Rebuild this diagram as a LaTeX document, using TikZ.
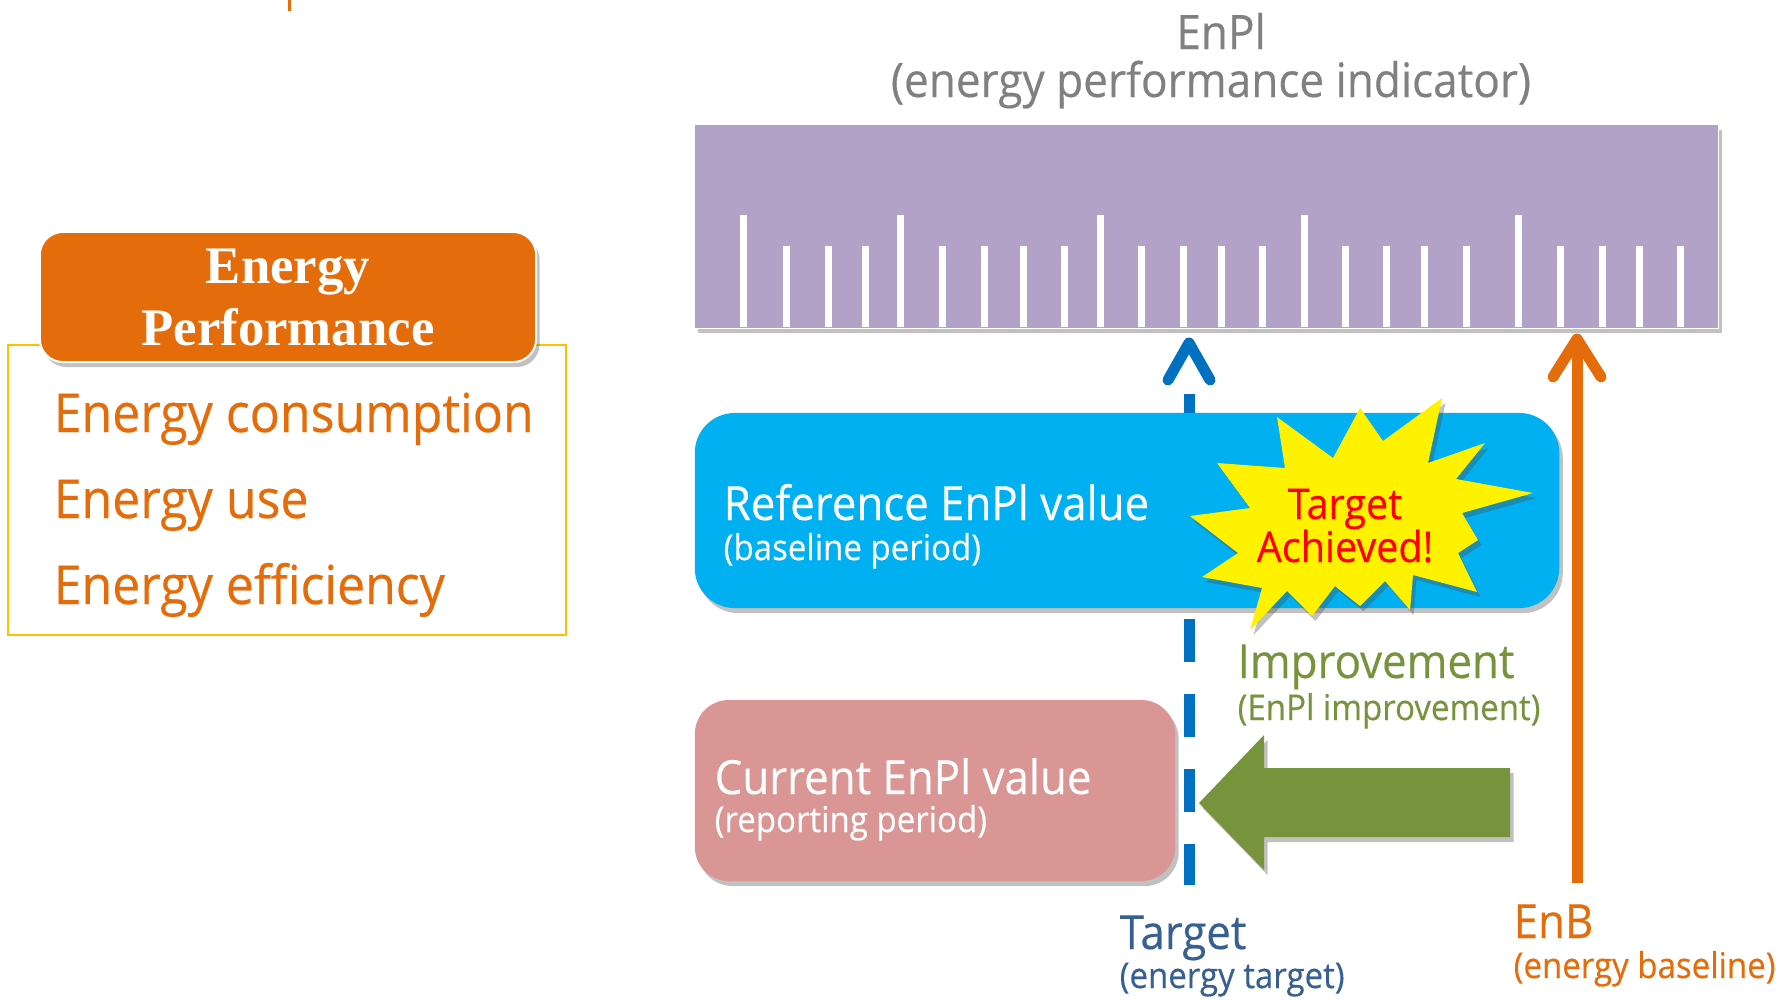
\documentclass[tikz,border=0pt]{standalone}
\usepackage{fontspec}
\setmainfont{Open Sans}[FakeStretch=0.93,FakeBold=0.35]
\newfontfamily\headfont{Liberation Serif}
\usepackage{tikz}
\usetikzlibrary{shadows,calc}
\definecolor{rulerpurple}{HTML}{B2A2C7}
\definecolor{refblue}{HTML}{00B0F0}
\definecolor{curpink}{HTML}{D99694}
\definecolor{enborange}{HTML}{E46C0A}
\definecolor{gaingreen}{HTML}{77933C}
\definecolor{tgtblue}{HTML}{0070C0}
\definecolor{tgttext}{HTML}{376092}
\definecolor{framegold}{HTML}{FFC000}
\tikzset{soft shadow/.style = {drop shadow={shadow xshift=0.035cm,shadow yshift=-0.05cm,opacity=0.35,fill=black!70}},
  value box/.style = {soft shadow, inner sep=0pt},
  big label/.style = {anchor=base west, inner sep=0pt, text=white, font=\fontsize{13.4}{16}\selectfont},
  small label/.style = {anchor=base west, inner sep=0pt, text=white, font=\fontsize{10.1}{12}\selectfont},
  list item/.style = {anchor=base west, inner sep=0pt, text=enborange, font=\fontsize{15.3}{18}\selectfont},
  title text/.style = {anchor=base, inner sep=0pt, text=black!50, font=\fontsize{13.5}{16}\selectfont},
  head text/.style = {anchor=base, inner sep=0pt, text=white, font=\headfont\bfseries\fontsize{15}{18}\selectfont},
  star text/.style = {anchor=base, inner sep=0pt, text=red, font=\fontsize{12.1}{14}\selectfont},
  ruler tick/.style = {draw=white, line width=0.07cm},
  target line/.style = {draw=tgtblue, line width=0.11cm},
  enb line/.style = {draw=enborange, line width=0.11cm}}

\begin{document}
\begin{tikzpicture}[x=0.01cm,y=-0.01cm]
  \useasboundingbox (0,0) rectangle (1776,999);
  \draw[enborange, line width=0.03cm] (289,0) -- (289,11);

  % energy performance panel
  \draw[framegold, line width=0.02cm] (8,345) rectangle (566,635);
  \node[value box, fill=enborange, draw=white, line width=0.02cm, rounded corners=0.23cm,
        minimum width=4.96cm, minimum height=1.30cm] (perf) at (288,297) {};
  \node[head text] (perfa) at (288,283) {Energy};
  \node[head text] (perfb) at (288,345) {Performance};
  \node[list item] (cons) at (53,432) {Energy consumption};
  \node[list item] (use) at (53,518) {Energy use};
  \node[list item] (effic) at (53,604) {Energy efficiency};

  % ruler
  \node[title text] (enpi) at (1221,49) {EnPl};
  \node[title text] (enpilong) at (1211,97) {(energy performance indicator)};
  \node[value box, fill=rulerpurple, draw=white, line width=0.01cm,
        minimum width=10.23cm, minimum height=2.03cm] (ruler) at (1206.5,226.5) {};
  \foreach \x in {743,900,1100,1304,1518}
    \draw[ruler tick] (\x,327) -- (\x,215);
  \foreach \x in {786,828,865,942,984,1023,1064,1141,1183,1221,1262,1345,1386,1424,1466,1560,1602,1639,1680}
    \draw[ruler tick] (\x,327) -- (\x,246);

  % target and baseline
  \coordinate (tgttip) at (1189,343);
  \coordinate (tgttop) at (1189,394);
  \coordinate (tgtend) at (1189,885);
  \draw[target line, dash pattern=on 0.43cm off 0.32cm] (tgttop) -- (tgtend);
  \draw[target line, line cap=round, line join=round] ($(tgttip)+(-21,37)$) -- (tgttip) -- ($(tgttip)+(21,37)$);
  \coordinate (enbtip) at (1577,339);
  \coordinate (enbend) at (1577,883);
  \draw[enb line] (enbend) -- (enbtip);
  \draw[enb line, line cap=round, line join=round] ($(enbtip)+(-24,38)$) -- (enbtip) -- ($(enbtip)+(24,38)$);

  % reference value
  \node[value box, fill=refblue, rounded corners=0.4cm,
        minimum width=8.64cm, minimum height=1.95cm] (refbox) at (1127,510.5) {};
  \node[big label] (refmain) at (723,520) {Reference EnPl value};
  \node[small label] (refsub) at (723,560) {(baseline period)};
  \fill[yellow, soft shadow] (1277,417) -- (1333,458) -- (1360,408) -- (1383,441) -- (1442,398)
    -- (1428,463) -- (1485,443) -- (1456,479) -- (1533,493) -- (1462,513) -- (1478,540)
    -- (1458,553) -- (1477,592) -- (1413,575) -- (1410,610) -- (1385,581) -- (1360,606)
    -- (1335,586) -- (1312,616) -- (1287,591) -- (1250,630) -- (1262,588) -- (1202,577)
    -- (1238,553) -- (1190,516) -- (1250,508) -- (1217,463) -- (1285,468) -- cycle;
  \node[star text] (hit) at (1345,519) {Target};
  \node[star text] (hitb) at (1345,562) {Achieved!};

  % current value
  \node[value box, fill=curpink, rounded corners=0.34cm,
        minimum width=4.80cm, minimum height=1.81cm] (curbox) at (935,790.5) {};
  \node[big label] (curmain) at (714,794) {Current EnPl value};
  \node[small label] (cursub) at (714,832) {(reporting period)};

  % improvement
  \fill[gaingreen, soft shadow] (1199,803) -- (1264,735) -- (1264,768) -- (1510,768)
    -- (1510,837) -- (1264,837) -- (1264,870) -- cycle;
  \node[big label, text=gaingreen] (gain) at (1237,678) {Improvement};
  \node[small label, text=gaingreen] (gainsub) at (1237,720) {(EnPl improvement)};
  \node[big label, text=tgttext] (tgt) at (1119,949) {Target};
  \node[small label, text=tgttext] (tgtsub) at (1119,988) {(energy target)};
  \node[big label, text=enborange] (enb) at (1513,938) {EnB};
  \node[small label, text=enborange] (enbsub) at (1513,978) {(energy baseline)};
\end{tikzpicture}
\end{document}
